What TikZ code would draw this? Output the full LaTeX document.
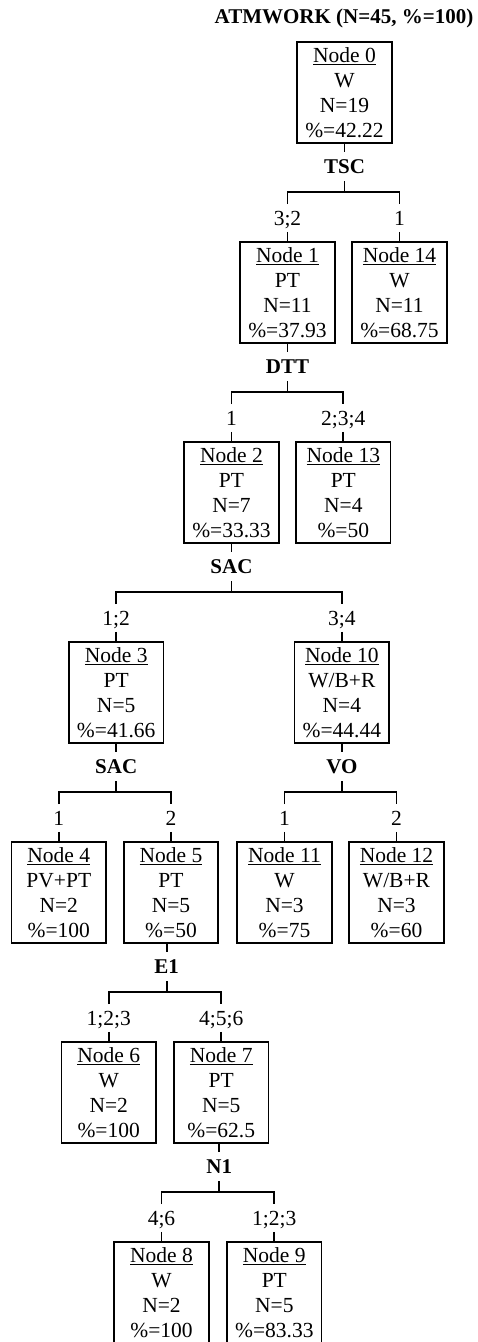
\documentclass[tikz,border=0pt]{standalone}
\usepackage{fontspec}
\setmainfont{Liberation Serif}
\begin{document}
\begin{tikzpicture}[x=1pt,y=-1pt,
  line width=1.7pt,
  tbox/.style={draw, rectangle, minimum width=94.5pt, minimum height=100.5pt,
    inner sep=0pt, align=center, font=\fontsize{21.5}{25}\selectfont},
  splitlbl/.style={inner xsep=2pt, inner ysep=6.5pt, text height=14pt, text depth=0pt,
    font=\fontsize{21}{25}\selectfont\bfseries},
  brlbl/.style={inner xsep=2pt, inner ysep=6pt, text height=14pt, text depth=0pt,
    font=\fontsize{21.5}{25}\selectfont},
  title/.style={font=\fontsize{21}{25}\selectfont\bfseries, inner sep=0pt}]
\useasboundingbox (0,0) rectangle (477,1342);
\newcommand\treebox[6]{\node[tbox] (#1) at (#2) {\underline{#3}\\#4\\N=#5\\\%=#6};}

% title
\node[title] (ttl) at (344,18) {ATMWORK (N=45, \%=100)};

% boxes: level tops at 42.5 + 200k
\treebox{n0}{344.5,92.5}{Node 0}{W}{19}{42.22}
\treebox{n1}{287.5,292.5}{Node 1}{PT}{11}{37.93}
\treebox{n14}{399.5,292.5}{Node 14}{W}{11}{68.75}
\treebox{n2}{231.5,492.5}{Node 2}{PT}{7}{33.33}
\treebox{n13}{343.3,492.5}{Node 13}{PT}{4}{50}
\treebox{n3}{116.2,692.5}{Node 3}{PT}{5}{41.66}
\treebox{n10}{341.8,692.5}{Node 10}{W/B+R}{4}{44.44}
\treebox{n4}{58.8,892.5}{Node 4}{PV+PT}{2}{100}
\treebox{n5}{171,892.5}{Node 5}{PT}{5}{50}
\treebox{n11}{284.5,892.5}{Node 11}{W}{3}{75}
\treebox{n12}{396.5,892.5}{Node 12}{W/B+R}{3}{60}
\treebox{n6}{108.7,1092.5}{Node 6}{W}{2}{100}
\treebox{n7}{221.2,1092.5}{Node 7}{PT}{5}{62.5}
\treebox{n8}{161.5,1292.5}{Node 8}{W}{2}{100}
\treebox{n9}{274.3,1292.5}{Node 9}{PT}{5}{83.33}

% split variables
\node[splitlbl] (t0) at (344.5,166.8) {TSC};
\node[splitlbl] (t1) at (287.5,366.8) {DTT};
\node[splitlbl] (t2) at (231.5,566.8) {SAC};
\node[splitlbl] (t3) at (116.2,766.8) {SAC};
\node[splitlbl] (t10) at (341.8,766.8) {VO};
\node[splitlbl] (t5) at (166.7,966.8) {E1};
\node[splitlbl] (t7) at (219.3,1166.8) {N1};

% junction points on the bars
\coordinate (j0) at (344.5,192);
\coordinate (j1) at (287.5,392);
\coordinate (j2) at (231.5,592);
\coordinate (j3) at (116.2,792);
\coordinate (j10) at (341.8,792);
\coordinate (j5) at (166.7,992);
\coordinate (j7) at (219.3,1192);

% branch values
\node[brlbl] (l1) at (287.5,218) {3;2};
\node[brlbl] (l14) at (399.5,218) {1};
\node[brlbl] (l2) at (231.5,418) {1};
\node[brlbl] (l13) at (343.3,418) {2;3;4};
\node[brlbl] (l3) at (116.2,618) {1;2};
\node[brlbl] (l10) at (341.8,618) {3;4};
\node[brlbl] (l4) at (58.8,818) {1};
\node[brlbl] (l5) at (171,818) {2};
\node[brlbl] (l11) at (284.5,818) {1};
\node[brlbl] (l12) at (396.5,818) {2};
\node[brlbl] (l6) at (108.7,1018) {1;2;3};
\node[brlbl] (l7) at (221.2,1018) {4;5;6};
\node[brlbl] (l8) at (161.5,1218) {4;6};
\node[brlbl] (l9) at (274.3,1218) {1;2;3};

% connectors
\draw (t0 |- n0.south) -- (t0) -- (j0);
\draw (l1) -- (l1 |- j0) -- (l14 |- j0) -- (l14);
\draw (l1) -- (n1); \draw (l14) -- (n14);

\draw (t1 |- n1.south) -- (t1) -- (j1);
\draw (l2) -- (l2 |- j1) -- (l13 |- j1) -- (l13);
\draw (l2) -- (n2); \draw (l13) -- (n13);

\draw (t2 |- n2.south) -- (t2) -- (j2);
\draw (l3) -- (l3 |- j2) -- (l10 |- j2) -- (l10);
\draw (l3) -- (n3); \draw (l10) -- (n10);

\draw (t3 |- n3.south) -- (t3) -- (j3);
\draw (l4) -- (l4 |- j3) -- (l5 |- j3) -- (l5);
\draw (l4) -- (n4); \draw (l5) -- (n5);

\draw (t10 |- n10.south) -- (t10) -- (j10);
\draw (l11) -- (l11 |- j10) -- (l12 |- j10) -- (l12);
\draw (l11) -- (n11); \draw (l12) -- (n12);

\draw (t5 |- n5.south) -- (t5) -- (j5);
\draw (l6) -- (l6 |- j5) -- (l7 |- j5) -- (l7);
\draw (l6) -- (n6); \draw (l7) -- (n7);

\draw (t7 |- n7.south) -- (t7) -- (j7);
\draw (l8) -- (l8 |- j7) -- (l9 |- j7) -- (l9);
\draw (l8) -- (n8); \draw (l9) -- (n9);
\end{tikzpicture}
\end{document}
